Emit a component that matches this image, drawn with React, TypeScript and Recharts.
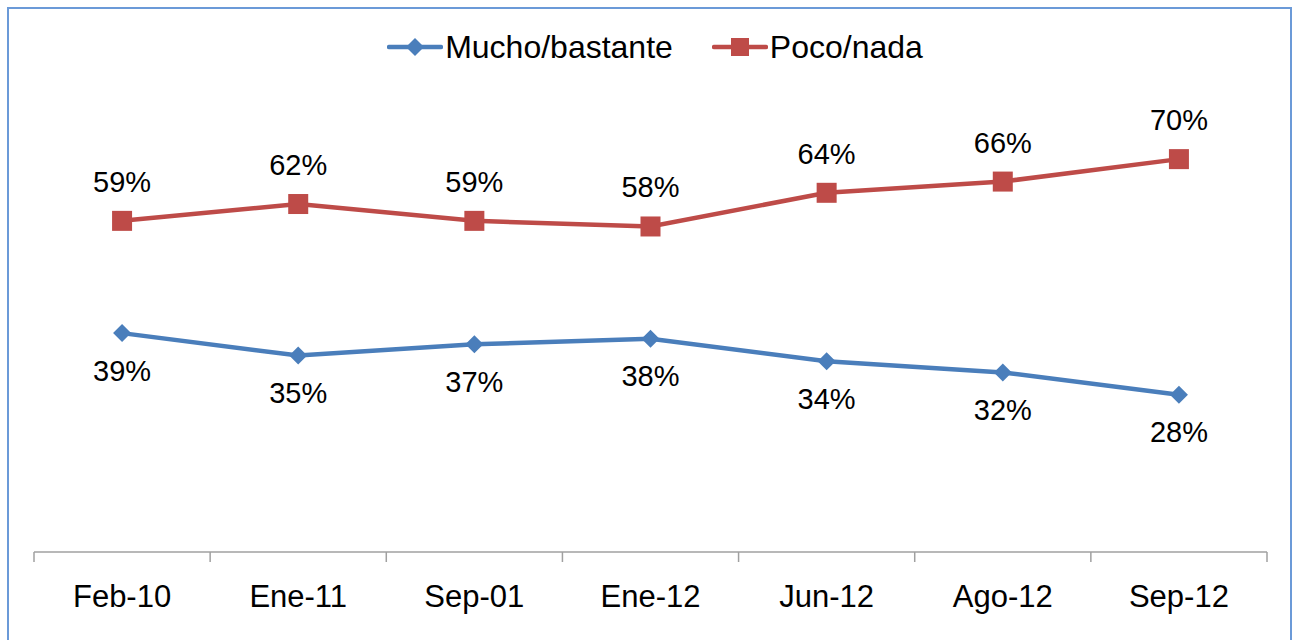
import { LineChart, Line, XAxis, YAxis, Legend, LabelList } from "recharts";

const CATEGORIES = ["Feb-10", "Ene-11", "Sep-01", "Ene-12", "Jun-12", "Ago-12", "Sep-12"];
const MUCHO = [39, 35, 37, 38, 34, 32, 28];
const POCO = [59, 62, 59, 58, 64, 66, 70];
const Y_DOMAIN: [number, number] = [0, 80];

const BLUE = "#4a7ebb";
const RED = "#be4b48";
const FONT = "'Liberation Sans', Arial, sans-serif";

const W = 1299;
const H = 640;
const MARGIN = { top: 103, right: 32, bottom: 28, left: 34 };
const X_AXIS_H = 60;
const TICK_SIZE = 10;
const TICK_MARGIN = 23;
const BAND = (W - MARGIN.left - MARGIN.right) / CATEGORIES.length;

const data = CATEGORIES.map((c, i) => ({ label: c, mucho: MUCHO[i], poco: POCO[i] }));

// eslint-disable-next-line @typescript-eslint/no-explicit-any
function SquareDot({ cx, cy }: any) {
  if (cx == null || cy == null) return null;
  return <rect x={cx - 10} y={cy - 10} width={20} height={20} fill={RED} />;
}

// eslint-disable-next-line @typescript-eslint/no-explicit-any
function DiamondDot({ cx, cy }: any) {
  if (cx == null || cy == null) return null;
  const r = 9;
  return <polygon points={`${cx},${cy - r} ${cx + r},${cy} ${cx},${cy + r} ${cx - r},${cy}`} fill={BLUE} />;
}

// category labels centred, tick marks on the category boundaries
// eslint-disable-next-line @typescript-eslint/no-explicit-any
function BoundaryTick({ x, y, payload, index }: any) {
  const top = y - TICK_SIZE - TICK_MARGIN;
  const last = index === CATEGORIES.length - 1;
  return (
    <g>
      <line x1={x - BAND / 2} x2={x - BAND / 2} y1={top} y2={top + TICK_SIZE} stroke="#a0a0a0" strokeWidth={1.5} />
      {last && (
        <line x1={x + BAND / 2} x2={x + BAND / 2} y1={top} y2={top + TICK_SIZE} stroke="#a0a0a0" strokeWidth={1.5} />
      )}
      <text x={x} y={y} dy="0.71em" textAnchor="middle" fontSize={31} fontFamily={FONT} fill="#000">
        {payload.value}
      </text>
    </g>
  );
}

function LegendMarker({ color, square }: { color: string; square: boolean }) {
  return (
    <svg width={56} height={24} style={{ display: "block" }}>
      <line x1={2} x2={54} y1={12} y2={12} stroke={color} strokeWidth={4.5} strokeLinecap="round" />
      {square ? (
        <rect x={19} y={3} width={18} height={18} fill={color} />
      ) : (
        <polygon points="28,3 37,12 28,21 19,12" fill={color} />
      )}
    </svg>
  );
}

function CustomLegend() {
  const items = [
    { label: "Mucho/bastante", color: BLUE, square: false },
    { label: "Poco/nada", color: RED, square: true },
  ];
  return (
    <div style={{ display: "flex", justifyContent: "center", gap: 39, paddingLeft: 11, fontFamily: FONT }}>
      {items.map((it) => (
        <div key={it.label} style={{ display: "flex", alignItems: "center", gap: 2 }}>
          <LegendMarker color={it.color} square={it.square} />
          <span style={{ fontSize: 32, lineHeight: "36px", color: "#000" }}>{it.label}</span>
        </div>
      ))}
    </div>
  );
}

const pct = (v: unknown) => `${v}%`;

export default function App() {
  return (
    <div style={{ position: "absolute", left: 0, top: 0, width: W, height: H, background: "#fff", overflow: "hidden" }}>
      <div
        style={{
          position: "absolute",
          left: 7,
          top: 7,
          width: 1285,
          height: 660,
          border: "2px solid #6b9ad8",
          boxSizing: "border-box",
        }}
      />
      <div style={{ position: "absolute", left: 0, top: 0 }}>
        <LineChart width={W} height={H} data={data} margin={MARGIN}>
          <XAxis
            dataKey="label"
            scale="band"
            height={X_AXIS_H}
            axisLine={{ stroke: "#a0a0a0", strokeWidth: 1.5 }}
            tickLine={false}
            tickSize={TICK_SIZE}
            tickMargin={TICK_MARGIN}
            tick={<BoundaryTick />}
            interval={0}
          />
          <YAxis hide width={0} domain={Y_DOMAIN} />
          <Legend
            verticalAlign="middle"
            align="center"
            wrapperStyle={{ top: 29, left: 0, width: W }}
            content={<CustomLegend />}
          />
          <Line
            dataKey="mucho"
            name="Mucho/bastante"
            stroke={BLUE}
            strokeWidth={4.5}
            dot={<DiamondDot />}
            activeDot={false}
            isAnimationActive={false}
          >
            <LabelList dataKey="mucho" position="bottom" offset={27} formatter={pct} fontSize={29} fontFamily={FONT} fill="#000" />
          </Line>
          <Line
            dataKey="poco"
            name="Poco/nada"
            stroke={RED}
            strokeWidth={4.5}
            dot={<SquareDot />}
            activeDot={false}
            isAnimationActive={false}
          >
            <LabelList dataKey="poco" position="top" offset={29} formatter={pct} fontSize={29} fontFamily={FONT} fill="#000" />
          </Line>
        </LineChart>
      </div>
    </div>
  );
}
